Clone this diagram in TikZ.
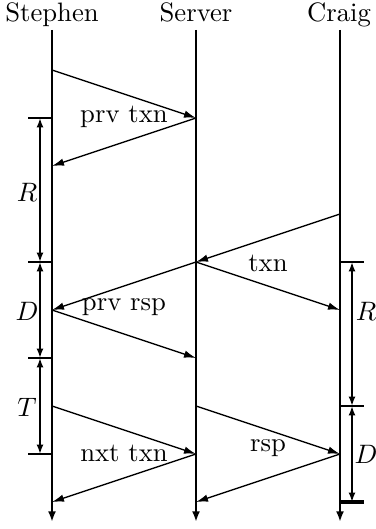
\documentclass[tikz,border=0pt]{standalone}
\usetikzlibrary{arrows.meta}
\begin{document}
\begin{tikzpicture}[x=0.375pt,y=-0.375pt,
  life/.style={line width=0.8pt,-{Latex[length=4pt,width=3pt]}},
  msg/.style={line width=0.5pt,-{Latex[length=4.5pt,width=2.8pt]}},
  dimline/.style={line width=0.8pt,{Latex[length=3.5pt,width=2.6pt]}-{Latex[length=3.5pt,width=2.6pt]}},
  tickline/.style={line width=0.8pt},
  lbl/.style={inner sep=0pt},
  title/.style={inner sep=0pt,anchor=base}]
\useasboundingbox (0,0) rectangle (376,529);
% titles
\node[title] (tS) at (52,22) {Stephen};
\node[title] (tV) at (196,22) {Server};
\node[title] (tC) at (339,22) {Craig};
% Stephen events
\coordinate (s0) at (52,30);
\coordinate (s1) at (52,70);
\coordinate (s2) at (52,118);
\coordinate (s3) at (52,166);
\coordinate (s4) at (52,262);
\coordinate (s5) at (52,310);
\coordinate (s6) at (52,358);
\coordinate (s7) at (52,406);
\coordinate (s8) at (52,454);
\coordinate (s9) at (52,502);
\coordinate (sE) at (52,522);
% Server events
\coordinate (v0) at (196,30);
\coordinate (v2) at (196,118);
\coordinate (v4) at (196,262);
\coordinate (v6) at (196,358);
\coordinate (v7) at (196,406);
\coordinate (v8) at (196,454);
\coordinate (v9) at (196,502);
\coordinate (vE) at (196,522);
% Craig events
\coordinate (c0) at (340,30);
\coordinate (c3) at (340,214);
\coordinate (c4) at (340,262);
\coordinate (c5) at (340,310);
\coordinate (c7) at (340,406);
\coordinate (c8) at (340,454);
\coordinate (c9) at (340,502);
\coordinate (cE) at (340,522);
% lifelines
\draw[life] (s0) -- (sE);
\draw[life] (v0) -- (vE);
\draw[life] (c0) -- (cE);
% messages
\draw[msg] (s1) -- (v2);
\draw[msg] (v2) -- (s3);
\draw[msg] (c3) -- (v4);
\draw[msg] (v4) -- (s5);
\draw[msg] (v4) -- (c5);
\draw[msg] (s5) -- (v6);
\draw[msg] (s7) -- (v8);
\draw[msg] (v8) -- (s9);
\draw[msg] (v7) -- (c8);
\draw[msg] (c8) -- (v9);
% message labels
\node[lbl] (l1) at (124,117) {prv txn};
\node[lbl] (l2) at (124,307) {prv rsp};
\node[lbl] (l3) at (124,453) {nxt txn};
\node[lbl] (l4) at (268,263) {txn};
\node[lbl] (l5) at (268,448) {rsp};
% left ticks and dimensions
\foreach \n/\y in {a/118,b/262,c/358,d/454}{
  \coordinate (L\n) at (28,\y);
  \coordinate (M\n) at (40,\y);
}
\draw[tickline] (La) -- (s2);
\draw[tickline] (Lb) -- (s4);
\draw[tickline] (Lc) -- (s6);
\draw[tickline] (Ld) -- (s8);
\draw[dimline] (Ma) -- (Mb);
\draw[dimline] (Mb) -- (Mc);
\draw[dimline] (Mc) -- (Md);
\node[lbl] (dR1) at (27,192) {$R$};
\node[lbl] (dD1) at (27,311) {$D$};
\node[lbl] (dT1) at (27,407) {$T$};
% right ticks and dimensions
\foreach \n/\y in {a/262,b/406,c/502}{
  \coordinate (Q\n) at (364,\y);
  \coordinate (N\n) at (352,\y);
}
\draw[tickline] (c4) -- (Qa);
\draw[tickline] (c7) -- (Qb);
\draw[tickline,line width=1.2pt] (c9) -- (Qc);
\draw[dimline] (Na) -- (Nb);
\draw[dimline] (Nb) -- (Nc);
\node[lbl] (dR2) at (366,311) {$R$};
\node[lbl] (dD2) at (366,454) {$D$};
\end{tikzpicture}
\end{document}
